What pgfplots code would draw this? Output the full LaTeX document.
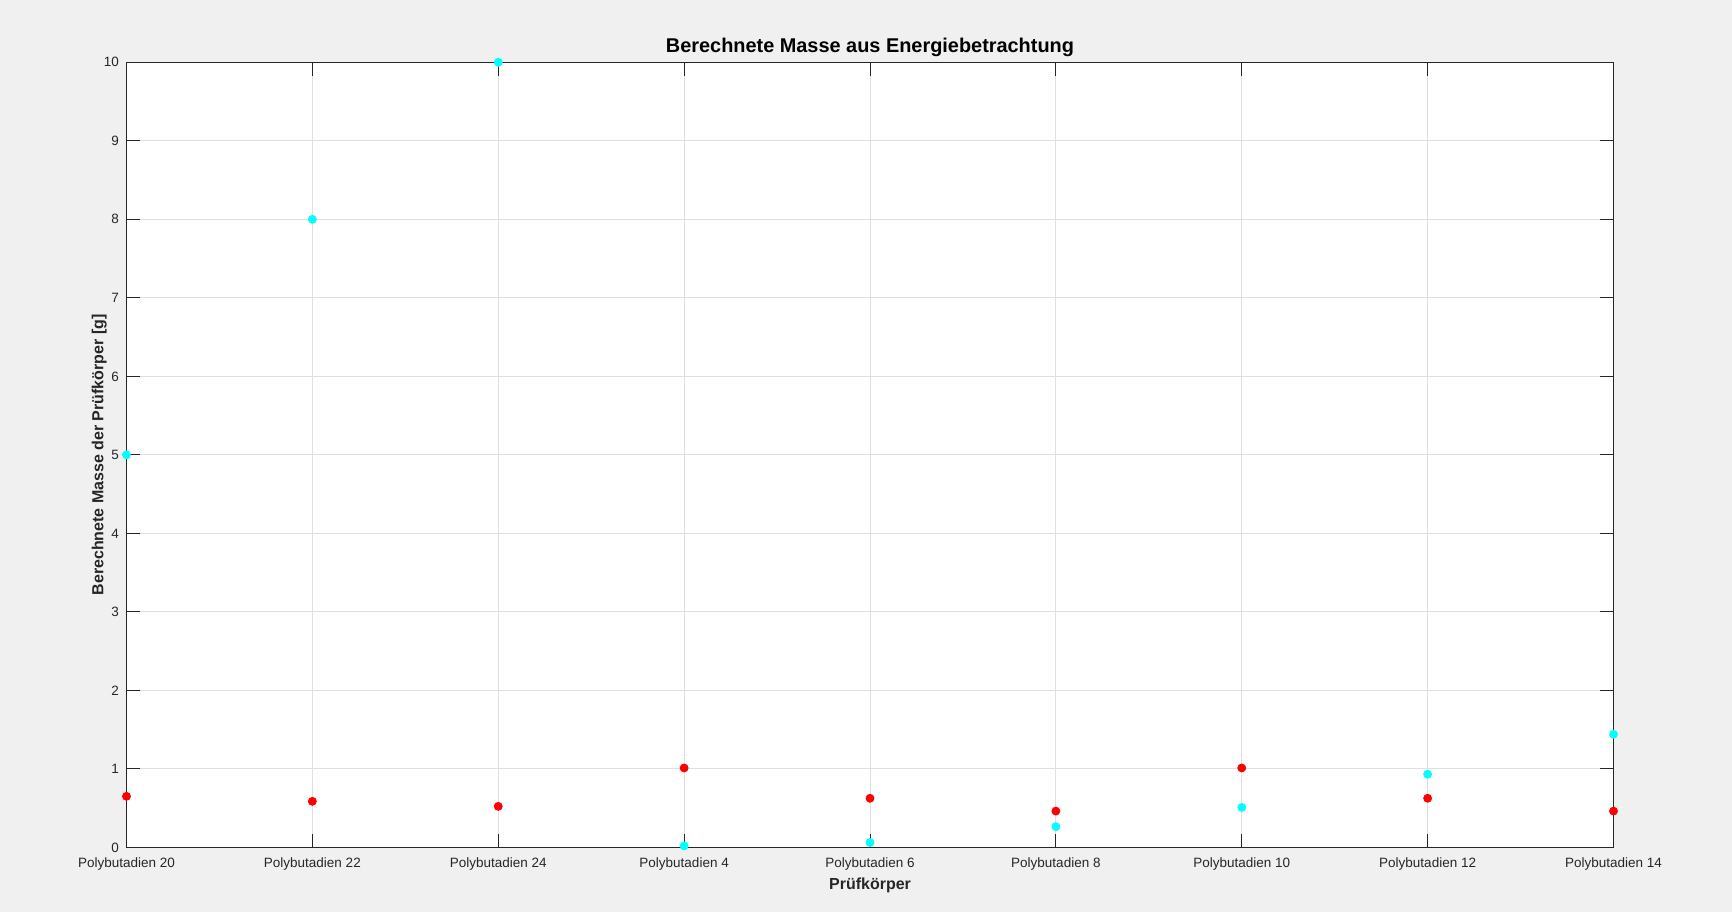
\documentclass[border=0pt]{standalone}
\usepackage{fontspec}
\setmainfont{Liberation Sans}
\usepackage{pgfplots}
\pgfplotsset{compat=1.18}
\usetikzlibrary{calc}
\pgfdeclarelayer{background}
\pgfsetlayers{background,main}

\definecolor{figbg}{HTML}{F0F0F0}
\definecolor{axcol}{HTML}{262626}
\definecolor{gridcol}{HTML}{DFDFDF}
\definecolor{mcyan}{RGB}{0,255,255}
\definecolor{mred}{RGB}{255,0,0}

\begin{document}
\begin{tikzpicture}
\begin{axis}[
    name=ax,
    scale only axis,
    width=743.5pt, height=392.6pt,
    xmin=0, xmax=8, ymin=0, ymax=10,
    xtick={0,...,8},
    xticklabels={Polybutadien 20, Polybutadien 22, Polybutadien 24, Polybutadien 4, Polybutadien 6, Polybutadien 8, Polybutadien 10, Polybutadien 12, Polybutadien 14},
    ytick={0,...,10},
    tick align=inside,
    major tick length=6.8pt,
    tick style={color=axcol, line width=0.5pt},
    axis line style={color=axcol, line width=0.6pt},
    grid=major,
    major grid style={color=gridcol, line width=0.5pt},
    axis background/.style={fill=white},
    clip=false,
    /pgf/number format/assume math mode=true,
    ticklabel style={font=\fontsize{6.75}{7.5}\selectfont, text=axcol, inner sep=0pt},
    xticklabel style={anchor=north, yshift=-5.1pt},
    yticklabel style={anchor=east, xshift=-3.6pt},
    title={Berechnete Masse aus Energiebetrachtung},
    every axis title/.style={at={(axis description cs:0.5,1)}, anchor=base, yshift=5pt, inner sep=0pt, font=\fontsize{9.95}{11}\selectfont\bfseries},
    xlabel={Prüfkörper},
    every axis x label/.style={at={(axis description cs:0.5,0)}, anchor=base, yshift=-20.75pt, inner sep=0pt, font=\fontsize{8}{9.5}\selectfont\bfseries, text=axcol},
    ylabel={Berechnete Masse der Prüfkörper [g]},
    every axis y label/.style={at={($(axis description cs:0,0.5)+(-11.6pt,0)$)}, rotate=90, anchor=base, inner sep=0pt, font=\fontsize{8}{9.5}\selectfont\bfseries, text=axcol},
]
% rot
\addplot[only marks, mark=*, mark size=2pt, color=mred] coordinates {
    (0,0.652) (1,0.588) (2,0.524) (3,1.013) (4,0.627) (5,0.464) (6,1.013) (7,0.627) (8,0.464)
};
% cyan
\addplot[only marks, mark=*, mark size=2pt, color=mcyan] coordinates {
    (0,5) (1,8) (2,10) (3,0.021) (4,0.064) (5,0.266) (6,0.511) (7,0.933) (8,1.442)
};
\end{axis}
\begin{pgfonlayer}{background}
\fill[figbg] ($(ax.south west)+(-63.25pt,-32.25pt)$) rectangle ($(ax.north east)+(59.25pt,31.15pt)$);
\end{pgfonlayer}
\end{tikzpicture}
\end{document}
